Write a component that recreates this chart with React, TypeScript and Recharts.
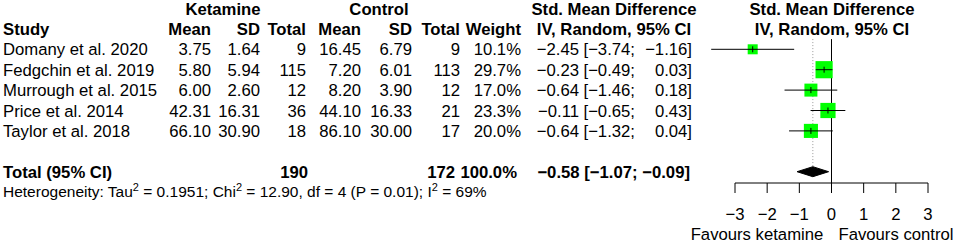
import React from 'react';
import {
  ComposedChart,
  Scatter,
  XAxis,
  YAxis,
  ReferenceLine,
  ReferenceArea
} from 'recharts';

const studies = ['Domany et al. 2020', 'Fedgchin et al. 2019', 'Murrough et al. 2015', 'Price et al. 2014', 'Taylor et al. 2018'];
const ketMean = [3.75, 5.80, 6.00, 42.31, 66.10];
const ketSd = [1.64, 5.94, 2.60, 16.31, 30.90];
const ketN = [9, 115, 12, 36, 18];
const ctlMean = [16.45, 7.20, 8.20, 44.10, 86.10];
const ctlSd = [6.79, 6.01, 3.90, 16.33, 30.00];
const ctlN = [9, 113, 12, 21, 17];
const weights = [10.1, 29.7, 17.0, 23.3, 20.0];
const smd = [-2.45, -0.23, -0.64, -0.11, -0.64];
const ciLow = [-3.74, -0.49, -1.46, -0.65, -1.32];
const ciHigh = [-1.16, 0.03, 0.18, 0.43, 0.04];

const totalKetN = 190;
const totalCtlN = 172;
const totalEst = -0.58;
const totalLow = -1.07;
const totalHigh = -0.09;

const tau2 = '0.1951';
const chi2 = '12.90';
const df = 4;
const pValue = '0.01';
const i2 = 69;

const xTicks = [-3, -2, -1, 0, 1, 2, 3];

// layout
const W = 957;
const H = 243;
const ROW0 = 8.5;
const ROW_H = 20.4;
const AXIS_Y = 183;
const FIRST_STUDY_ROW = 2;
const TOTAL_ROW = 8;
const rowY = (i: number) => ROW0 + ROW_H * i;
const yMin = -ROW0 / ROW_H;
const yMax = (AXIS_Y - ROW0) / ROW_H;
const DIAMOND_H = 0.245;

const FONT = '"Liberation Sans", Arial, Helvetica, sans-serif';
const FS = 16.7;

const minus = (s: string) => s.replace(/-/g, '\u2212');
const f2 = (v: number) => minus(v.toFixed(2));

const points = smd.map((v, i) => ({ x: v, y: FIRST_STUDY_ROW + i, w: weights[i] }));

const Square = (props: any) => {
  const { cx, cy, payload } = props;
  const s = 3.15 * Math.sqrt(payload.w);
  return <rect x={cx - s / 2} y={cy - s / 2} width={s} height={s} fill="#00ff00" />;
};

const Tick = (props: any) => {
  const { cx, cy } = props;
  return <line x1={cx} x2={cx} y1={cy - 3} y2={cy + 3} stroke="#000" strokeWidth={1} />;
};

const Diamond = (props: any) => {
  const { x, y, width, height } = props;
  const px = x + (width * (totalEst - totalLow)) / (totalHigh - totalLow);
  const pts = [
    [x, y + height / 2],
    [px, y],
    [x + width, y + height / 2],
    [px, y + height]
  ].map((p) => p.join(',')).join(' ');
  return <polygon points={pts} fill="#000" stroke="#000" />;
};

const T = (p: any) => {
  const { x, row, anchor = 'end', bold = false, children, size = FS } = p;
  return (
    <text
      x={x}
      y={rowY(row) + 6}
      textAnchor={anchor}
      fontWeight={bold ? 'bold' : 'normal'}
      fontSize={size}
      fill="#000"
    >
      {children}
    </text>
  );
};

const Table = () => {
  const col = { mean1: 211, sd1: 260, n1: 306, mean2: 361, sd2: 412, n2: 460, wt: 521, est: 579, lo: 635, hi: 692 };
  return (
    <svg width={W} height={H} style={{ position: 'absolute', left: 0, top: 0, fontFamily: FONT }}>
      <T x={223} row={0} anchor="middle" bold>Ketamine</T>
      <T x={379} row={0} anchor="middle" bold>Control</T>
      <T x={614} row={0} anchor="middle" bold>Std. Mean Difference</T>
      <T x={614} row={1} anchor="middle" bold>IV, Random, 95% CI</T>
      <T x={832} row={0} anchor="middle" bold>Std. Mean Difference</T>
      <T x={832} row={1} anchor="middle" bold>IV, Random, 95% CI</T>

      <T x={3} row={1} anchor="start" bold>Study</T>
      <T x={col.mean1} row={1} bold>Mean</T>
      <T x={col.sd1} row={1} bold>SD</T>
      <T x={col.n1} row={1} bold>Total</T>
      <T x={col.mean2} row={1} bold>Mean</T>
      <T x={col.sd2} row={1} bold>SD</T>
      <T x={col.n2} row={1} bold>Total</T>
      <T x={col.wt} row={1} bold>Weight</T>

      {studies.map((s, i) => {
        const r = FIRST_STUDY_ROW + i;
        return (
          <g key={s}>
            <T x={3} row={r} anchor="start">{s}</T>
            <T x={col.mean1} row={r}>{ketMean[i].toFixed(2)}</T>
            <T x={col.sd1} row={r}>{ketSd[i].toFixed(2)}</T>
            <T x={col.n1} row={r}>{ketN[i]}</T>
            <T x={col.mean2} row={r}>{ctlMean[i].toFixed(2)}</T>
            <T x={col.sd2} row={r}>{ctlSd[i].toFixed(2)}</T>
            <T x={col.n2} row={r}>{ctlN[i]}</T>
            <T x={col.wt} row={r}>{weights[i].toFixed(1)}%</T>
            <T x={col.est} row={r}>{f2(smd[i])}</T>
            <T x={col.lo} row={r}>[{f2(ciLow[i])};</T>
            <T x={col.hi} row={r}>{f2(ciHigh[i])}]</T>
          </g>
        );
      })}

      <T x={3} row={TOTAL_ROW} anchor="start" bold>Total (95% CI)</T>
      <T x={308} row={TOTAL_ROW} bold>{totalKetN}</T>
      <T x={455} row={TOTAL_ROW} bold>{totalCtlN}</T>
      <T x={517} row={TOTAL_ROW} bold>100.0%</T>
      <T x={col.hi - 2} row={TOTAL_ROW} bold>{`${f2(totalEst)} [${f2(totalLow)}; ${f2(totalHigh)}]`}</T>

      <text x={3} y={rowY(9) + 5} fontSize={15.5} fill="#000">
        Heterogeneity: Tau<tspan dy={-6} fontSize={11}>2</tspan>
        <tspan dy={6}>{` = ${tau2}; Chi`}</tspan>
        <tspan dy={-6} fontSize={11}>2</tspan>
        <tspan dy={6}>{` = ${chi2}, df = ${df} (P = ${pValue}); I`}</tspan>
        <tspan dy={-6} fontSize={11}>2</tspan>
        <tspan dy={6}>{` = ${i2}%`}</tspan>
      </text>

      <text x={757} y={239.5} textAnchor="middle" fontSize={FS} fill="#000">Favours ketamine</text>
      <text x={896} y={239.5} textAnchor="middle" fontSize={FS} fill="#000">Favours control</text>
    </svg>
  );
};

const App = () => {
  return (
    <div style={{ position: 'absolute', left: 0, top: 0, width: W, height: H, background: '#fff', fontFamily: FONT }}>
      <ComposedChart
        width={W}
        height={H}
        data={points}
        margin={{ top: 0, right: W - 928, bottom: 0, left: 735 }}
      >
        <XAxis
          type="number"
          dataKey="x"
          domain={[-3, 3]}
          ticks={xTicks}
          tickSize={10}
          height={H - AXIS_Y}
          stroke="#000"
          axisLine={{ stroke: '#000' }}
          tickLine={{ stroke: '#000' }}
          tick={{ fill: '#000', fontSize: FS, fontFamily: FONT }}
          tickMargin={15}
          tickFormatter={(v: number) => minus(String(v))}
          allowDataOverflow
        />
        <YAxis type="number" dataKey="y" domain={[yMin, yMax]} reversed hide width={0} allowDataOverflow />

        <ReferenceLine
          segment={[{ x: totalEst, y: 1.5 }, { x: totalEst, y: TOTAL_ROW - DIAMOND_H }]}
          stroke="#999"
          strokeDasharray="1 2"
          ifOverflow="visible"
        />
        <ReferenceLine
          segment={[{ x: 0, y: 1.5 }, { x: 0, y: yMax }]}
          stroke="#000"
          ifOverflow="visible"
        />

        <Scatter dataKey="y" shape={Square} isAnimationActive={false} />

        {smd.map((v, i) => (
          <ReferenceLine
            key={i}
            segment={[{ x: ciLow[i], y: FIRST_STUDY_ROW + i }, { x: ciHigh[i], y: FIRST_STUDY_ROW + i }]}
            stroke="#000"
            ifOverflow="visible"
            zIndex={700}
          />
        ))}
        <Scatter dataKey="y" shape={Tick} isAnimationActive={false} />

        <ReferenceArea
          x1={totalLow}
          x2={totalHigh}
          y1={TOTAL_ROW - DIAMOND_H}
          y2={TOTAL_ROW + DIAMOND_H}
          shape={Diamond}
          ifOverflow="visible"
        />
      </ComposedChart>
      <Table />
    </div>
  );
};

export default App;
